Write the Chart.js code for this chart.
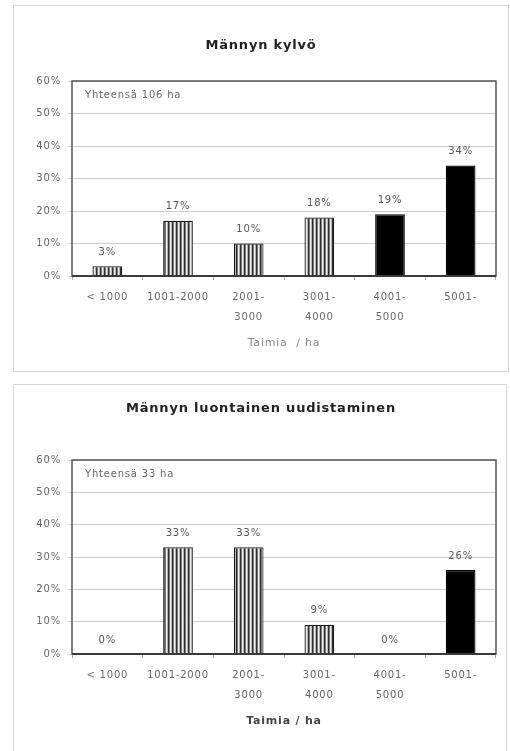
<!DOCTYPE html>
<html>
<head>
<meta charset="utf-8">
<script src="https://cdn.jsdelivr.net/npm/chart.js@4"></script>
<style>
  html, body { margin: 0; padding: 0; background: #fff; width: 510px; height: 751px; overflow: hidden; }
  .panel { position: absolute; border: 1px solid #d6d6d6; box-sizing: border-box; }
  #panelTop { left: 13px; top: 5px; width: 496px; height: 367px; }
  #panelBottom { left: 13px; top: 384px; width: 494px; height: 380px; border-bottom: none; }
  canvas { position: absolute; left: 0; }
  #chartTop { top: 0; }
  #chartBottom { top: 378px; }
</style>
</head>
<body>
<div class="panel" id="panelTop"></div>
<div class="panel" id="panelBottom"></div>
<canvas id="chartTop" width="510" height="370" style="width:510px;height:370px"></canvas>
<canvas id="chartBottom" width="510" height="373" style="width:510px;height:373px"></canvas>
<script>
// Seedling density classes (plants per hectare)
const categories = ['< 1000', '1001-2000', ['2001-', '3000'], ['3001-', '4000'], ['4001-', '5000'], '5001-'];
// Share of area per class, percent
const kylvoValues = [3, 17, 10, 18, 19, 34];
const luontainenValues = [0, 33, 33, 9, 0, 26];
const yTickValues = [0, 10, 20, 30, 40, 50, 60];

const kylvoTitle = 'Männyn kylvö';
const luontainenTitle = 'Männyn luontainen uudistaminen';
const kylvoTotal = 'Yhteensä 106 ha';
const luontainenTotal = 'Yhteensä 33 ha';

Chart.defaults.font.family = '"DejaVu Sans", "Liberation Sans", sans-serif';

// vertical stripe fill for the lower density classes
function stripePattern() {
  const c = document.createElement('canvas');
  c.width = 4; c.height = 4;
  const g = c.getContext('2d');
  ['#2e2e2e', '#7a7a7a', '#eeeeee', '#b4b4b4'].forEach((col, i) => {
    g.fillStyle = col; g.fillRect(i, 0, 1, 4);
  });
  return g.createPattern(c, 'repeat');
}
const stripes = stripePattern();

// slightly widened lettering
const spacing = {
  id: 'spacing',
  beforeUpdate(chart) { chart.ctx.letterSpacing = '0.8px'; },
  beforeDraw(chart) { chart.ctx.letterSpacing = '0.8px'; }
};

// box around the plot area, heavier base line
const frame = {
  id: 'frame',
  afterDatasetsDraw(chart) {
    const { ctx, chartArea: a } = chart;
    ctx.save();
    ctx.strokeStyle = '#555';
    ctx.lineWidth = 1.5;
    ctx.strokeRect(a.left, a.top, a.right - a.left, a.bottom - a.top);
    ctx.strokeStyle = '#3a3a3a';
    ctx.lineWidth = 2;
    ctx.beginPath();
    ctx.moveTo(a.left, a.bottom);
    ctx.lineTo(a.right, a.bottom);
    ctx.stroke();
    ctx.restore();
  }
};

// percentage printed above each bar
const valueLabels = {
  id: 'valueLabels',
  afterDraw(chart) {
    const { ctx } = chart;
    const meta = chart.getDatasetMeta(0);
    const values = chart.data.datasets[0].data;
    ctx.save();
    ctx.fillStyle = '#555';
    ctx.font = '10px "DejaVu Sans", sans-serif';
    ctx.textAlign = 'center';
    ctx.textBaseline = 'middle';
    meta.data.forEach((bar, i) => {
      ctx.fillText(values[i] + '%', bar.x, bar.y - 14);
    });
    ctx.restore();
  }
};

// total area note in the upper left corner of the plot
const totalNote = {
  id: 'totalNote',
  afterDraw(chart, args, opts) {
    const { ctx, chartArea: a } = chart;
    ctx.save();
    ctx.fillStyle = '#666';
    ctx.font = '10px "DejaVu Sans", sans-serif';
    ctx.textAlign = 'left';
    ctx.textBaseline = 'middle';
    ctx.fillText(opts.text, a.left + 13, a.top + 14);
    ctx.restore();
  }
};

function makeChart(id, values, title, titlePadding, total, axisTitle, axisBold, padBottom) {
  return new Chart(document.getElementById(id), {
    type: 'bar',
    data: {
      labels: categories,
      datasets: [{
        data: values,
        backgroundColor: values.map((v, i) => i >= 4 ? '#000' : stripes),
        borderColor: values.map((v, i) => i >= 4 ? '#000' : '#1a1a1a'),
        borderWidth: 1.2,
        barPercentage: 0.5,
        categoryPercentage: 0.84
      }]
    },
    options: {
      responsive: false,
      animation: false,
      events: [],
      layout: { padding: { left: 26, right: 14, top: 0, bottom: padBottom } },
      plugins: {
        legend: { display: false },
        tooltip: { enabled: false },
        title: {
          display: true,
          text: title,
          color: '#222',
          font: { size: 13, weight: 'bold', lineHeight: 1.2 },
          padding: titlePadding
        },
        totalNote: { text: total }
      },
      scales: {
        x: {
          grid: { drawOnChartArea: false, drawTicks: true, tickLength: 4, color: '#aaa' },
          border: { display: false },
          ticks: { color: '#666', font: { size: 10, lineHeight: 1.95 }, padding: 8, maxRotation: 0, autoSkip: false },
          title: {
            display: true,
            text: axisTitle,
            color: axisBold ? '#444' : '#8a8a8a',
            font: { size: 11, weight: axisBold ? 'bold' : 'normal', lineHeight: 1.2 },
            padding: { top: 0, bottom: 4 }
          },
          afterFit(scale) { scale.height = 77.3; }
        },
        y: {
          min: 0,
          max: 60,
          afterBuildTicks(scale) { scale.ticks = yTickValues.map(v => ({ value: v })); },
          ticks: { color: '#666', font: { size: 10 }, padding: 7, callback: v => v + '%' },
          grid: { color: '#cfcfcf', tickLength: 4 },
          border: { display: false },
          afterFit(scale) { scale.width = 46; }
        }
      }
    },
    plugins: [spacing, frame, valueLabels, totalNote]
  });
}

makeChart('chartTop', kylvoValues, kylvoTitle, { top: 38.2, bottom: 27.2 },
  kylvoTotal, 'Taimia  / ha', false, 16.7);
makeChart('chartBottom', luontainenValues, luontainenTitle, { top: 23.2, bottom: 43.2 },
  luontainenTotal, 'Taimia / ha', true, 19.7);
</script>
</body>
</html>
